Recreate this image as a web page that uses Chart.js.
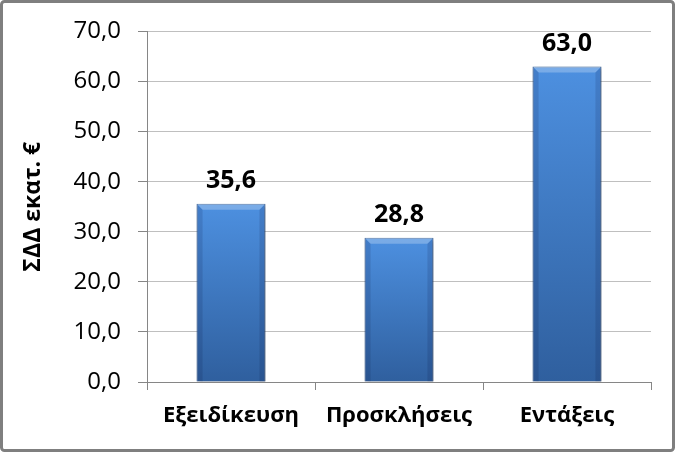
<!DOCTYPE html>
<html>
<head>
<meta charset="utf-8">
<script src="https://cdn.jsdelivr.net/npm/chart.js@4.4.1/dist/chart.umd.min.js"></script>
<style>
  html, body { margin: 0; padding: 0; background: #fff; }
  #myChart { display: block; }
</style>
</head>
<body>
<canvas id="myChart" width="675" height="452"></canvas>
<script>
// Values
const categories = ['Εξειδίκευση', 'Προσκλήσεις', 'Εντάξεις'];
const amounts = [35.6, 28.8, 63.0];
const yTicks = [0, 10, 20, 30, 40, 50, 60, 70];
const yTitle = 'ΣΔΔ εκατ. €';

const FONT = "'Open Sans', 'Noto Sans', sans-serif";

function fmt(v) {
  return v.toFixed(1).replace('.', ',');
}

// outer frame of the picture
const framePlugin = {
  id: 'frame',
  afterDraw(chart) {
    const ctx = chart.ctx;
    ctx.save();
    ctx.strokeStyle = '#7f7f7f';
    ctx.lineWidth = 3;
    ctx.beginPath();
    ctx.roundRect(1.5, 1.5, chart.width - 3, chart.height - 3, 3);
    ctx.stroke();
    ctx.restore();
  }
};

// soft shadow behind the bars
const shadowPlugin = {
  id: 'barShadow',
  beforeDatasetsDraw(chart) {
    const ctx = chart.ctx;
    ctx.save();
    ctx.shadowColor = 'rgba(0,0,0,0.35)';
    ctx.shadowBlur = 4;
    ctx.shadowOffsetX = 2;
    ctx.shadowOffsetY = 2;
  },
  afterDatasetsDraw(chart) {
    chart.ctx.restore();
  }
};

// bevel look on the bars + value labels above them
const barDecor = {
  id: 'barDecor',
  afterDatasetsDraw(chart) {
    const ctx = chart.ctx;
    const meta = chart.getDatasetMeta(0);
    ctx.save();
    meta.data.forEach((bar) => {
      const half = bar.width / 2;
      const l = bar.x - half, r = bar.x + half, t = bar.y, b = bar.base;
      const e = 6;
      // top bevel (lighter)
      ctx.fillStyle = 'rgba(255,255,255,0.25)';
      ctx.beginPath();
      ctx.moveTo(l, t); ctx.lineTo(r, t); ctx.lineTo(r - e, t + e); ctx.lineTo(l + e, t + e);
      ctx.closePath(); ctx.fill();
      // side bevels (darker)
      ctx.fillStyle = 'rgba(0,0,40,0.12)';
      ctx.beginPath();
      ctx.moveTo(l, t); ctx.lineTo(l + e, t + e); ctx.lineTo(l + e, b); ctx.lineTo(l, b);
      ctx.closePath(); ctx.fill();
      ctx.beginPath();
      ctx.moveTo(r, t); ctx.lineTo(r - e, t + e); ctx.lineTo(r - e, b); ctx.lineTo(r, b);
      ctx.closePath(); ctx.fill();
    });
    ctx.font = 'bold 25px ' + FONT;
    ctx.fillStyle = '#000';
    ctx.textAlign = 'center';
    ctx.textBaseline = 'bottom';
    meta.data.forEach((bar, i) => {
      ctx.fillText(fmt(amounts[i]), bar.x, bar.y - 10);
    });
    ctx.restore();
  }
};

const config = {
  type: 'bar',
  data: {
    labels: categories,
    datasets: [{
      data: amounts,
      backgroundColor: function(context) {
        const chart = context.chart;
        const area = chart.chartArea;
        if (!area || context.dataIndex === undefined) return '#3b75c4';
        const y = chart.scales.y;
        const top = y.getPixelForValue(amounts[context.dataIndex]);
        const g = chart.ctx.createLinearGradient(0, top, 0, area.bottom);
        g.addColorStop(0, '#4d90e0');
        g.addColorStop(1, '#2f5f9e');
        return g;
      },
      borderColor: '#2d5b98',
      borderWidth: 1,
      barPercentage: 0.41,
      categoryPercentage: 1.0
    }]
  },
  options: {
    responsive: false,
    animation: false,
    layout: { padding: { top: 27, right: 24, bottom: 0, left: 20 } },
    plugins: {
      legend: { display: false },
      tooltip: { enabled: false }
    },
    scales: {
      x: {
        grid: {
          offset: true,
          drawOnChartArea: false,
          tickLength: 8,
          tickColor: '#868686'
        },
        border: { color: '#868686', width: 1 },
        ticks: {
          color: '#000',
          padding: 13,
          font: { family: FONT, size: 22, weight: 'bold' }
        },
        afterFit(scale) { scale.height = 70; }
      },
      y: {
        min: 0,
        max: 70,
        afterBuildTicks(scale) {
          scale.ticks = yTicks.map(v => ({ value: v }));
        },
        grid: {
          color: '#bfbfbf',
          tickLength: 9,
          tickColor: '#868686'
        },
        border: { color: '#868686', width: 1 },
        ticks: {
          color: '#000',
          padding: 17,
          font: { family: FONT, size: 24 },
          callback: v => fmt(v)
        },
        title: {
          display: true,
          text: yTitle,
          color: '#000',
          font: { family: FONT, size: 23, weight: 'bold' },
          padding: { top: 0, bottom: 0 }
        },
        afterFit(scale) { scale.width = 127; }
      }
    }
  },
  plugins: [shadowPlugin, barDecor, framePlugin]
};

window.onload = function() {
  const ctx = document.getElementById('myChart').getContext('2d');
  new Chart(ctx, config);
};
</script>
</body>
</html>
